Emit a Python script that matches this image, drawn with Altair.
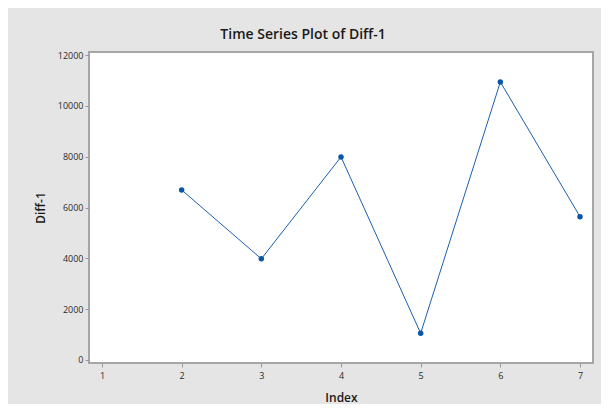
import altair as alt
import pandas as pd

index = [2, 3, 4, 5, 6, 7]
diff1 = [6690, 3980, 7990, 1050, 10940, 5640]
x_ticks = [1, 2, 3, 4, 5, 6, 7]
y_ticks = [0, 2000, 4000, 6000, 8000, 10000, 12000]

df = pd.DataFrame({"Index": index, "Diff-1": diff1})

FONT = "Open Sans"
BLUE = "#1b5fae"

x = alt.X("Index:Q", scale=alt.Scale(domain=[0.837, 7.163], nice=False, zero=False),
          axis=alt.Axis(values=x_ticks, title="Index", format="d", grid=False))
y = alt.Y("Diff-1:Q", scale=alt.Scale(domain=[-120, 12120], nice=False, zero=False),
          axis=alt.Axis(values=y_ticks, title="Diff-1", format="d", grid=False))

line = alt.Chart(df).mark_line(color=BLUE, strokeWidth=1).encode(x=x, y=y)
pts = alt.Chart(df).mark_point(color="#0a56a8", filled=True, opacity=1, size=30, shape="circle").encode(x=x, y=y)

chart = (line + pts).properties(
    width=504, height=311,
    autosize=alt.AutoSizeParams(type="none"),
    padding={"left": 81, "top": 44, "right": 8, "bottom": 41},
    background="#e5e5e5",
    title=alt.TitleParams("Time Series Plot of Diff-1", fontSize=14, fontWeight=600, font=FONT,
                          color="#1a1a1a", anchor="middle", dx=-38, offset=9),
).configure_view(
    fill="white", stroke="#a6a6a6", strokeWidth=2
).configure_axis(
    domain=False, tickColor="#9a9a9a", tickSize=4, tickWidth=1,
    labelFont=FONT, labelFontSize=9, labelColor="#2a2a2a",
    titleFont=FONT, titleFontSize=12, titleFontWeight=600, titleColor="#1a1a1a",
).configure_axisY(
    labelPadding=2, titlePadding=10
).configure_axisX(
    labelPadding=4, titlePadding=12
)

chart.save("out.html", embed_options={"renderer": "svg", "actions": False})
